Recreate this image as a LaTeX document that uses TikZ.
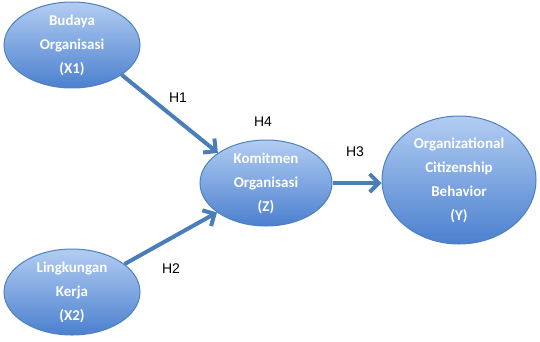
\documentclass[tikz,border=0pt]{standalone}
\usepackage{fontspec}
\setmainfont{Carlito}
\newfontfamily\hfont{Liberation Sans}
\usetikzlibrary{shapes.geometric,arrows.meta,shadows}
\definecolor{elltop}{HTML}{B2CDF2}
\definecolor{ellbot}{HTML}{4B80CF}
\definecolor{elledge}{HTML}{4F81BD}
\definecolor{arr}{HTML}{4A7EBB}
\tikzset{
  var/.style={ellipse, draw=elledge, line width=1pt, top color=elltop, bottom color=ellbot,
    text=white, align=center, font=\bfseries\fontsize{15}{24}\selectfont, inner sep=0pt},
  link/.style={draw=arr, line width=4pt, -{Straight Barb[length=9pt,width=18pt,line width=4pt]}},
  hlab/.style={font=\hfont\fontsize{14}{16}\selectfont, text=black}
}
\begin{document}
\begin{tikzpicture}[x=1pt,y=-1pt]
\useasboundingbox (0,0) rectangle (540,341);
\node[var, minimum width=136pt, minimum height=84pt] (x1) at (72,45) {Budaya\\Organisasi\\(X1)};
\node[var, minimum width=136pt, minimum height=86pt] (x2) at (72,292) {Lingkungan\\Kerja\\(X2)};
\node[var, minimum width=132pt, minimum height=86pt] (z) at (266,183) {Komitmen\\Organisasi\\(Z)};
\node[var, minimum width=154pt, minimum height=128pt] (y) at (459,180) {Organizational\\Citizenship\\Behavior\\(Y)};
\draw[link] (x1.329) -- (z.148);
\draw[link] (x2.28) -- (z.211);
\draw[link] (z.east) -- (z.east -| y.west);
\node[hlab] (h1) at (178,98) {H1};
\node[hlab] (h4) at (263,122) {H4};
\node[hlab] (h3) at (355,152) {H3};
\node[hlab] (h2) at (171,269) {H2};
\end{tikzpicture}
\end{document}
